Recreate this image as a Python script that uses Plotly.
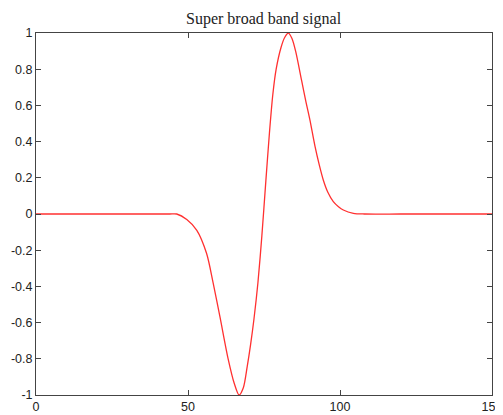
import plotly.graph_objects as go

# Signal samples
x_vals = [0, 20, 40, 44, 46.3, 49.6, 52.9, 56.1, 58.3, 60.5, 63.2, 65.2, 66.8, 68.2, 69.5,
          70.6, 71.7, 73.0, 74.3, 75.6, 76.8, 77.9, 79.0, 80.6, 81.8, 83.0, 84.2, 85.4,
          87.4, 88.8, 90.1, 91.8, 93.2, 94.5, 96.0, 97.8, 99.5, 101.1, 104.4, 108, 120, 135, 150]
y_vals = [0, 0, 0, 0, 0, -0.03, -0.09, -0.217, -0.383, -0.567, -0.80, -0.935, -1.0, -0.96, -0.84,
          -0.72, -0.58, -0.38, -0.12, 0.18, 0.45, 0.66, 0.80, 0.92, 0.975, 1.0, 0.97, 0.90,
          0.735, 0.62, 0.52, 0.372, 0.27, 0.188, 0.12, 0.068, 0.04, 0.022, 0.004, 0, 0, 0, 0]

x_ticks = [0, 50, 100, 150]
y_ticks = [-1, -0.8, -0.6, -0.4, -0.2, 0, 0.2, 0.4, 0.6, 0.8, 1]
y_tick_text = ["-1", "-0.8", "-0.6", "-0.4", "-0.2", "0", "0.2", "0.4", "0.6", "0.8", "1"]
title_text = "Super broad band signal"

fig = go.Figure()
fig.add_trace(go.Scatter(x=x_vals, y=y_vals, mode="lines",
                         line=dict(color="#ff3030", width=1.3, shape="spline", smoothing=0.8),
                         hoverinfo="skip", showlegend=False))

axis_common = dict(showgrid=False, zeroline=False, showline=True, linecolor="#444444",
                   linewidth=1, mirror="ticks", ticks="inside", ticklen=5,
                   tickcolor="#444444", automargin=False,
                   tickfont=dict(family="Liberation Sans, Arial, sans-serif", size=12.5, color="#222222"))

# The page body adds an 8px offset, so the figure is sized to fit the window
fig.update_layout(
    width=495, height=407,
    margin=dict(l=28, r=11, t=25, b=20, autoexpand=False),
    paper_bgcolor="white", plot_bgcolor="white",
    xaxis=dict(range=[0, 150], tickvals=x_ticks, **axis_common),
    yaxis=dict(range=[-1, 1], tickvals=y_ticks, ticktext=y_tick_text, **axis_common),
    annotations=[dict(text=title_text, xref="paper", yref="paper", x=0.5, y=1,
                      yanchor="bottom", xanchor="center", yshift=3, showarrow=False,
                      font=dict(family="Liberation Serif, Times New Roman, serif", size=16,
                                color="#222222"))],
)

fig.write_html("out.html")
